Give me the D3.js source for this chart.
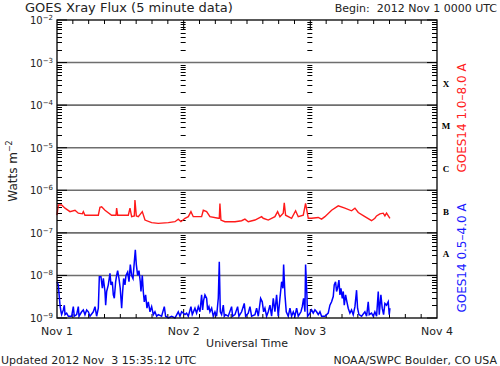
<!DOCTYPE html>
<html><head><meta charset="utf-8">
<script src="https://cdn.jsdelivr.net/npm/d3@7"></script>
<style>
html,body{margin:0;padding:0;background:#fff;}
svg text{font-family:"DejaVu Sans",sans-serif;white-space:pre;}
</style></head>
<body>
<svg id="c" width="500" height="366"></svg>
<script>
// ---- data (hours since 2012 Nov 1 00:00 UTC, flux in W m^-2) ----
const dayLabels = ["Nov 1","Nov 2","Nov 3","Nov 4"];
const yExponents = [-2,-3,-4,-5,-6,-7,-8,-9];
const classLabels = ["X","M","C","B","A"];
const classLevels = [1e-4,1e-5,1e-6,1e-7,1e-8];

const redHours = [0,0.25,0.88,1.52,2.46,3.41,4.04,4.80,4.99,5.30,6.57,7.83,8.14,8.46,9.09,10.35,11.18,11.30,11.49,13.51,13.83,14.14,14.65,14.77,15.03,15.41,16.16,16.67,17.93,19.19,21.09,22.35,22.98,23.49,24.25,24.88,25.38,25.82,27.40,27.72,28.35,28.98,30.56,30.75,30.87,31.06,31.82,33.72,34.98,35.61,36.24,37.51,38.77,39.08,40.03,41.29,41.80,42.24,42.87,43.06,43.31,44.45,45.21,45.71,46.66,47.10,47.61,48.24,49.50,50.13,50.76,52.03,53.29,54.55,55.81,56.45,57.08,58.34,59.60,60.23,60.55,61.18,61.81,62.13,62.44,63.08];
const redFlux = [2.6e-7,4.5e-7,4.5e-7,3.8e-7,3.15e-7,3.4e-7,2.9e-7,2.8e-7,3.15e-7,2.6e-7,2.6e-7,2.6e-7,4.0e-7,4.1e-7,3.4e-7,2.6e-7,2.6e-7,3.8e-7,2.6e-7,2.6e-7,3.8e-7,2.4e-7,2.5e-7,5.9e-7,2.5e-7,2.4e-7,3.15e-7,2.0e-7,1.74e-7,1.67e-7,1.74e-7,1.83e-7,2.1e-7,1.83e-7,2.2e-7,2.4e-7,3.15e-7,2.4e-7,2.4e-7,3.4e-7,3.15e-7,2.4e-7,2.2e-7,2.2e-7,4.9e-7,2.0e-7,1.83e-7,1.83e-7,1.93e-7,2.1e-7,1.83e-7,2.0e-7,2.4e-7,2.2e-7,2.0e-7,2.4e-7,3.15e-7,2.4e-7,2.9e-7,5.1e-7,2.6e-7,2.2e-7,3.3e-7,2.4e-7,2.6e-7,4.9e-7,2.2e-7,2.2e-7,2.3e-7,2.1e-7,2.4e-7,3.4e-7,4.3e-7,3.8e-7,3.3e-7,3.8e-7,3.0e-7,2.4e-7,1.93e-7,2.2e-7,2.5e-7,2.8e-7,2.9e-7,2.5e-7,2.9e-7,2.2e-7];

const blueHours = [0,0.25,0.38,0.57,0.76,0.88,1.20,1.39,1.52,1.83,2.15,2.78,3.09,3.28,3.72,4.04,4.17,4.67,4.99,5.30,5.62,5.94,6.25,6.88,7.20,7.51,7.83,8.02,8.33,8.59,8.78,9.09,9.22,9.41,9.72,10.04,10.23,10.48,10.67,10.86,11.11,11.30,11.49,11.74,11.98,12.25,12.44,12.63,12.88,13.07,13.39,13.64,13.89,14.14,14.40,14.65,14.84,15.03,15.28,15.53,15.78,15.91,16.16,16.35,16.54,16.79,17.05,17.30,17.62,17.93,18.25,18.56,18.88,19.19,19.82,20.33,20.58,21.09,21.72,22.35,22.98,23.30,23.61,24.25,24.56,24.88,25.38,25.63,26.14,26.45,26.77,27.09,27.40,27.59,27.78,28.03,28.35,28.54,28.79,28.98,29.30,29.61,29.93,30.24,30.56,30.75,30.94,31.19,31.51,31.70,31.95,32.45,33.08,33.27,33.72,34.22,34.47,34.98,35.48,35.74,36.24,36.56,36.87,37.51,37.82,38.14,38.58,38.89,39.15,39.40,39.71,40.03,40.35,40.66,40.98,41.29,41.61,41.92,42.24,42.56,42.81,42.94,43.19,43.44,43.82,44.14,44.45,44.77,45.08,45.40,45.71,46.22,46.47,46.72,46.98,47.10,47.35,47.48,47.92,48.24,48.55,48.87,49.19,49.50,49.82,50.13,50.76,51.39,51.71,52.03,52.34,52.53,52.78,52.97,53.16,53.42,53.61,53.80,54.05,54.24,54.43,54.68,54.93,55.18,55.50,55.81,56.13,56.45,56.76,56.95,57.21,57.71,58.34,58.66,58.97,59.16,59.60,59.92,60.23,60.55,60.87,61.06,61.37,61.62,61.88,62.13,62.44,62.76,62.95,63.08];
const blueFlux = [7.1e-9,6.0e-9,3.8e-9,2.0e-9,1.4e-9,1.2e-9,1.55e-9,2.0e-9,1.2e-9,1.3e-9,1.1e-9,1.1e-9,1.85e-9,1.1e-9,1.2e-9,1.85e-9,1.1e-9,1.4e-9,1.55e-9,1.2e-9,1.55e-9,1.4e-9,1.1e-9,1.4e-9,1.85e-9,1.1e-9,1.7e-9,9.3e-9,9.3e-9,5.0e-9,8.5e-9,4.2e-9,2.0e-9,4.2e-9,6.0e-9,1.12e-8,6.0e-9,7.1e-9,3.5e-9,2.9e-9,7.1e-9,1.0e-8,1.3e-8,8.5e-9,5.0e-9,1.7e-9,4.2e-9,8.5e-9,6.0e-9,1.0e-8,1.2e-8,7.1e-9,1.8e-8,1.0e-8,8.5e-9,2.1e-8,4.0e-8,1.8e-8,1.0e-8,1.3e-8,7.1e-9,4.2e-9,1.0e-8,4.2e-9,2.4e-9,3.5e-9,1.7e-9,2.4e-9,1.4e-9,1.85e-9,1.2e-9,1.4e-9,1.1e-9,1.2e-9,1.1e-9,1.85e-9,1.1e-9,1.0e-9,1.1e-9,1.0e-9,1.4e-9,1.1e-9,1.4e-9,1.2e-9,1.3e-9,1.1e-9,1.85e-9,1.2e-9,1.7e-9,1.3e-9,1.85e-9,1.4e-9,3.5e-9,1.55e-9,2.6e-9,3.5e-9,2.9e-9,1.55e-9,1.85e-9,1.4e-9,1.7e-9,1.1e-9,1.4e-9,1.1e-9,2.9e-9,2.1e-8,1.4e-9,1.2e-9,2.0e-9,1.1e-9,1.2e-9,1.1e-9,1.85e-9,1.1e-9,1.2e-9,1.85e-9,1.1e-9,1.4e-9,2.2e-9,1.1e-9,1.3e-9,1.85e-9,1.1e-9,1.2e-9,1.7e-9,1.1e-9,2.9e-9,2.4e-9,1.4e-9,1.7e-9,1.1e-9,1.4e-9,2.0e-9,1.1e-9,2.9e-9,1.4e-9,3.5e-9,1.1e-9,2.9e-9,7.1e-9,5.0e-9,1.8e-8,3.5e-9,1.4e-9,1.1e-9,1.7e-9,1.1e-9,1.4e-9,1.1e-9,1.7e-9,1.1e-9,1.4e-9,1.85e-9,2.9e-9,1.4e-9,1.8e-8,3.5e-9,1.1e-9,1.3e-9,1.55e-9,1.3e-9,1.55e-9,1.4e-9,1.2e-9,1.4e-9,1.1e-9,1.1e-9,1.3e-9,2.0e-9,2.4e-9,3.2e-9,6.0e-9,7.1e-9,4.2e-9,5.0e-9,7.8e-9,3.5e-9,5.0e-9,2.9e-9,4.2e-9,2.0e-9,3.5e-9,2.4e-9,1.7e-9,1.3e-9,1.55e-9,1.2e-9,1.85e-9,4.5e-9,1.7e-9,1.2e-9,1.1e-9,1.4e-9,1.1e-9,2.4e-9,1.2e-9,1.3e-9,1.1e-9,1.4e-9,1.1e-9,4.2e-9,1.2e-9,3.5e-9,1.7e-9,1.2e-9,2.2e-9,2.0e-9,2.4e-9,1.2e-9,1.7e-9];

// ---- drawing ----
const svg = d3.select("#c");
const L = 57, R = 437, T = 20, B = 318;
const x = d3.scaleLinear().domain([0,72]).range([L,R]);
const y = d3.scaleLog().domain([1e-9,1e-2]).range([B,T]).clamp(true);

// horizontal decade grid lines
const decades = yExponents.map(e => Math.pow(10,e));
svg.append("g").selectAll("line").data(decades.filter(d => d<1e-2 && d>1e-9)).join("line")
  .attr("x1",L).attr("x2",R).attr("y1",d=>y(d)).attr("y2",d=>y(d))
  .attr("stroke","#6e6e6e").attr("stroke-width",1.6);

// minor log ticks
const minors = [];
for (let e=-9;e<-2;e++) for (let m=2;m<=9;m++) minors.push(m*Math.pow(10,e));
const tk = svg.append("g").attr("stroke","#000").attr("stroke-width",1);
tk.selectAll("line.l").data(minors).join("line").attr("class","l")
  .attr("x1",L).attr("x2",L+5).attr("y1",d=>Math.round(y(d))+0.5).attr("y2",d=>Math.round(y(d))+0.5);
tk.selectAll("line.r").data(minors).join("line").attr("class","r")
  .attr("x1",R-5).attr("x2",R).attr("y1",d=>Math.round(y(d))+0.5).attr("y2",d=>Math.round(y(d))+0.5);
tk.selectAll("line.lM").data(decades).join("line").attr("class","lM")
  .attr("x1",L).attr("x2",L+10).attr("y1",d=>y(d)).attr("y2",d=>y(d));
tk.selectAll("line.rM").data(decades).join("line").attr("class","rM")
  .attr("x1",R-10).attr("x2",R).attr("y1",d=>y(d)).attr("y2",d=>y(d));
// day boundary tick columns
[24,48].forEach(h=>{
  tk.append("g").selectAll("line").data(minors).join("line")
    .attr("x1",x(h)-3).attr("x2",x(h)+2).attr("y1",d=>Math.round(y(d))+0.5).attr("y2",d=>Math.round(y(d))+0.5);
});
// time ticks
const hourTicks = d3.range(3,72,3);
tk.selectAll("line.t").data(hourTicks).join("line").attr("class","t")
  .attr("x1",d=>x(d)).attr("x2",d=>x(d)).attr("y1",T).attr("y2",d=>d%24===0?T+9:T+4);
tk.selectAll("line.b").data(hourTicks).join("line").attr("class","b")
  .attr("x1",d=>x(d)).attr("x2",d=>x(d)).attr("y1",B).attr("y2",d=>d%24===0?B-9:B-4);

// data lines
const line = d3.line().x(d=>x(d[0])).y(d=>y(d[1]));
svg.append("path").datum(redHours.map((h,i)=>[h,redFlux[i]]))
  .attr("d",line).attr("fill","none").attr("stroke","#ff1a1a").attr("stroke-width",1.4);
svg.append("path").datum(blueHours.map((h,i)=>[h,blueFlux[i]]))
  .attr("d",line).attr("fill","none").attr("stroke","#0000ff").attr("stroke-width",1.5);

// frame
svg.append("rect").attr("x",L).attr("y",T).attr("width",R-L).attr("height",B-T)
  .attr("fill","none").attr("stroke","#000").attr("stroke-width",1.3);

// y labels
const yl = svg.append("g");
yExponents.forEach(e=>{
  const t = yl.append("text").attr("x",53).attr("y",y(Math.pow(10,e))+4)
    .attr("text-anchor","end").attr("font-size",10).attr("fill","#222");
  t.append("tspan").text("10");
  t.append("tspan").attr("dy",-4).attr("font-size",7).text("\u2212"+(-e));
});

// class labels
svg.append("g").selectAll("text").data(classLabels).join("text")
  .attr("x",446).attr("y",(d,i)=>(y(classLevels[i])+y(classLevels[i]*10))/2 +3)
  .attr("text-anchor","middle").attr("font-size",9).attr("font-weight","bold")
  .style("font-family","'Liberation Serif',serif").text(d=>d);

// x labels
svg.append("g").selectAll("text").data(dayLabels).join("text")
  .attr("x",(d,i)=>x(i*24)).attr("y",335).attr("text-anchor","middle")
  .attr("font-size",11).attr("fill","#222").text(d=>d);
svg.append("text").attr("x",247).attr("y",347).attr("text-anchor","middle")
  .attr("font-size",11).attr("fill","#222").text("Universal Time");

// titles
svg.append("text").attr("x",25).attr("y",12).attr("font-size",13).attr("fill","#222")
  .text("GOES Xray Flux (5 minute data)");
svg.append("text").attr("x",497).attr("y",12).attr("text-anchor","end").attr("font-size",11).attr("fill","#222")
  .text("Begin:  2012 Nov 1 0000 UTC");
svg.append("text").attr("x",1).attr("y",364).attr("font-size",11).attr("fill","#222")
  .text("Updated 2012 Nov  3 15:35:12 UTC");
svg.append("text").attr("x",497).attr("y",364).attr("text-anchor","end").attr("font-size",11).attr("fill","#222")
  .text("NOAA/SWPC Boulder, CO USA");

// left axis title
const wt = svg.append("text").attr("transform","translate(17,171) rotate(-90)")
  .attr("text-anchor","middle").attr("font-size",12).attr("fill","#222");
wt.append("tspan").text("Watts m");
wt.append("tspan").attr("dy",-5).attr("font-size",8).text("\u22122");

// right legends
svg.append("text").attr("transform","translate(466,118) rotate(-90)").attr("text-anchor","middle")
  .attr("font-size",12).attr("fill","#ff2020").text("GOES14 1.0\u20138.0 A");
svg.append("text").attr("transform","translate(466,258) rotate(-90)").attr("text-anchor","middle")
  .attr("font-size",12).attr("fill","#1a1aff").text("GOES14 0.5\u20134.0 A");
</script>
</body></html>
